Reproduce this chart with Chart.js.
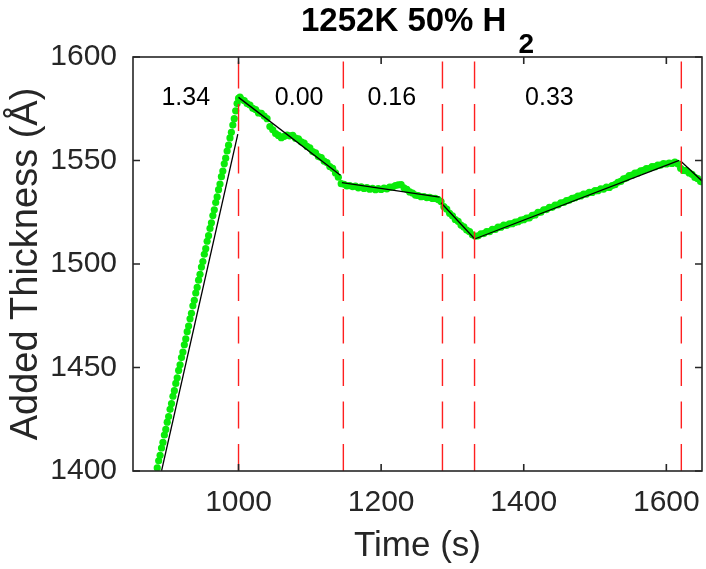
<!DOCTYPE html>
<html>
<head>
<meta charset="utf-8">
<script src="https://cdn.jsdelivr.net/npm/chart.js@4.4.1/dist/chart.umd.min.js"></script>
<style>
  html, body { margin: 0; padding: 0; background: #fff; }
  canvas { display: block; }
</style>
</head>
<body>
<canvas id="chart" width="706" height="569"></canvas>
<script>
// measured film thickness (green dots)
const measTime = [
  884, 886, 888, 890, 892, 894, 896, 898, 900, 902, 904, 906, 908, 910, 912, 914, 916, 918, 920, 922,
  924, 926, 928, 930, 932, 934, 936, 938, 940, 942, 944, 946, 948, 950, 952, 954, 956, 958, 960, 962,
  964, 966, 968, 970, 972, 974, 976, 978, 980, 982, 984, 986, 988, 990, 992, 994, 996, 998, 1000, 1002,
  1004, 1008, 1012, 1016, 1020, 1024, 1028, 1032, 1036, 1040, 1044, 1048, 1052, 1056, 1060, 1064, 1068, 1072, 1076, 1080,
  1084, 1088, 1092, 1096, 1100, 1104, 1108, 1112, 1116, 1120, 1124, 1128, 1132, 1136, 1140, 1144, 1148, 1152, 1156, 1160,
  1164, 1168, 1172, 1176, 1180, 1184, 1188, 1192, 1196, 1200, 1204, 1208, 1212, 1216, 1220, 1224, 1228, 1232, 1236, 1240,
  1244, 1248, 1252, 1256, 1260, 1264, 1268, 1272, 1276, 1280, 1284, 1288, 1292, 1296, 1300, 1304, 1308, 1312, 1316, 1320,
  1324, 1328, 1332, 1336, 1340, 1344, 1348, 1352, 1356, 1360, 1364, 1368, 1372, 1376, 1380, 1384, 1388, 1392, 1396, 1400,
  1404, 1408, 1412, 1416, 1420, 1424, 1428, 1432, 1436, 1440, 1444, 1448, 1452, 1456, 1460, 1464, 1468, 1472, 1476, 1480,
  1484, 1488, 1492, 1496, 1500, 1504, 1508, 1512, 1516, 1520, 1524, 1528, 1532, 1536, 1540, 1544, 1548, 1552, 1556, 1560,
  1564, 1568, 1572, 1576, 1580, 1584, 1588, 1592, 1596, 1600, 1604, 1608, 1612, 1616, 1620, 1624, 1628, 1632, 1636, 1640,
  1644, 1648
];
const measThickness = [
  1398.4, 1401.5, 1404.9, 1407.6, 1411.1, 1413.8, 1417.4, 1420.1, 1423.6, 1426.3, 1429.8, 1432.6, 1436.1, 1438.8, 1442.3, 1445.0, 1448.6, 1451.3, 1454.8, 1457.5,
  1461.0, 1463.8, 1467.3, 1470.0, 1473.5, 1476.2, 1479.8, 1482.5, 1486.0, 1488.7, 1492.2, 1495.0, 1498.5, 1501.2, 1504.7, 1507.4, 1511.0, 1513.7, 1517.2, 1519.9,
  1523.4, 1526.2, 1529.7, 1532.4, 1535.9, 1538.6, 1542.2, 1544.9, 1548.4, 1551.1, 1554.6, 1557.4, 1560.9, 1563.6, 1567.1, 1570.2, 1574.0, 1577.5, 1580.0, 1580.6,
  1579.6, 1578.9, 1577.5, 1576.8, 1575.2, 1574.6, 1573.0, 1572.8, 1571.5, 1570.2, 1566.4, 1564.8, 1563.0, 1562.1, 1561.0, 1561.7, 1562.3, 1561.9, 1562.1, 1560.8,
  1560.5, 1559.0, 1558.4, 1556.8, 1556.1, 1554.3, 1553.7, 1551.9, 1551.4, 1549.7, 1549.0, 1547.1, 1546.2, 1544.0, 1541.9, 1538.8, 1538.5, 1537.7, 1537.9, 1537.4,
  1537.6, 1536.8, 1537.3, 1536.5, 1536.9, 1536.1, 1536.6, 1535.9, 1536.4, 1536.0, 1536.7, 1536.3, 1537.1, 1537.2, 1537.9, 1538.2, 1538.4, 1536.8, 1536.1, 1534.8,
  1534.3, 1533.3, 1533.1, 1532.5, 1532.6, 1532.1, 1532.2, 1531.7, 1531.7, 1531.1, 1530.2, 1527.7, 1526.5, 1524.5, 1523.3, 1521.5, 1520.6, 1518.8, 1517.9, 1516.4,
  1515.6, 1514.1, 1513.4, 1513.6, 1514.6, 1514.7, 1515.6, 1515.6, 1516.7, 1516.7, 1517.8, 1517.8, 1518.8, 1518.7, 1519.4, 1519.5, 1520.2, 1520.4, 1521.2, 1521.4,
  1522.2, 1522.3, 1523.5, 1523.7, 1524.9, 1525.0, 1526.2, 1526.3, 1527.4, 1527.4, 1528.5, 1528.5, 1529.6, 1529.7, 1530.6, 1530.9, 1531.7, 1532.0, 1532.8, 1532.9,
  1533.8, 1533.8, 1534.6, 1534.6, 1535.4, 1535.4, 1536.3, 1536.2, 1537.1, 1537.0, 1537.9, 1538.3, 1539.5, 1539.9, 1541.1, 1541.5, 1542.7, 1542.9, 1543.9, 1544.0,
  1545.0, 1545.2, 1546.1, 1546.1, 1547.0, 1547.0, 1547.8, 1547.8, 1548.5, 1548.3, 1548.8, 1548.6, 1549.2, 1548.4, 1546.2, 1545.2, 1545.1, 1544.0, 1543.3, 1541.8,
  1541.2, 1539.8
];

// piecewise linear fits (black), start/end of each segment
const fitTime = [[892, 999], [1000, 1143], [1145, 1282], [1284, 1331], [1332, 1618], [1620, 1650]];
const fitThickness = [[1400, 1562.7], [1580.5, 1542.9], [1539.3, 1532.3], [1529.6, 1512.2], [1512.2, 1550.1], [1549.8, 1540.1]];

// red dashed segment boundaries
const boundaryTimes = [1000, 1147, 1286, 1331, 1621];

// rate labels written over each interval
const rateLabels = ["1.34", "0.00", "0.16", "0.33"];
const rateLabelTimes = [926, 1085, 1215, 1436];
const rateLabelLevel = 1580;

const xLimits = [852, 1650];
const yLimits = [1400, 1600];
const xTickValues = [1000, 1200, 1400, 1600];
const yTickValues = [1400, 1450, 1500, 1550, 1600];

const fontFamily = "'Liberation Sans', Arial, Helvetica, sans-serif";
const axisColor = "#262626";

const datasets = [];

boundaryTimes.forEach((t) => {
  datasets.push({
    data: [{ x: t, y: yLimits[0] }, { x: t, y: yLimits[1] }],
    showLine: true,
    borderColor: "#ff1f1f",
    borderWidth: 1.4,
    borderDash: [27, 15.5],
    pointRadius: 0,
    order: 0,
  });
});

fitTime.forEach((seg, i) => {
  datasets.push({
    data: seg.map((t, j) => ({ x: t, y: fitThickness[i][j] })),
    showLine: true,
    borderColor: "#000000",
    borderWidth: 1.3,
    pointRadius: 0,
    order: 1,
  });
});

datasets.push({
  data: measTime.map((t, i) => ({ x: t, y: measThickness[i] })),
  showLine: false,
  pointRadius: 3.6,
  pointBorderWidth: 0,
  pointBackgroundColor: "rgb(10, 235, 10)",
  order: 2,
});

// frame, inward ticks, rate labels and the title with its subscript
const decorations = {
  id: "decorations",
  afterDatasetsDraw(chart) {
    const { ctx, scales: { x, y } } = chart;
    ctx.save();
    ctx.font = `25px ${fontFamily}`;
    ctx.fillStyle = "#000";
    ctx.textAlign = "center";
    ctx.textBaseline = "middle";
    rateLabels.forEach((txt, i) => {
      ctx.fillText(txt, x.getPixelForValue(rateLabelTimes[i]), y.getPixelForValue(rateLabelLevel));
    });
    ctx.restore();
  },
  afterDraw(chart) {
    const { ctx, chartArea: a, scales: { x, y } } = chart;
    ctx.save();
    ctx.strokeStyle = axisColor;
    ctx.lineWidth = 1.6;
    ctx.strokeRect(a.left, a.top, a.right - a.left, a.bottom - a.top);
    ctx.beginPath();
    xTickValues.forEach((v) => {
      const px = x.getPixelForValue(v);
      ctx.moveTo(px, a.bottom);
      ctx.lineTo(px, a.bottom - 7);
      ctx.moveTo(px, a.top);
      ctx.lineTo(px, a.top + 7);
    });
    yTickValues.forEach((v) => {
      const py = y.getPixelForValue(v);
      ctx.moveTo(a.left, py);
      ctx.lineTo(a.left + 7, py);
      ctx.moveTo(a.right, py);
      ctx.lineTo(a.right - 7, py);
    });
    ctx.stroke();

    const mainText = "1252K 50% H";
    const subText = "2";
    ctx.fillStyle = "#000";
    ctx.textAlign = "left";
    ctx.textBaseline = "alphabetic";
    ctx.font = `bold 33px ${fontFamily}`;
    const mainW = ctx.measureText(mainText).width;
    ctx.font = `bold 28px ${fontFamily}`;
    const subW = ctx.measureText(subText).width;
    const gap = 12;
    const start = (a.left + a.right) / 2 - (mainW + gap + subW) / 2;
    ctx.font = `bold 33px ${fontFamily}`;
    ctx.fillText(mainText, start, 31);
    ctx.font = `bold 28px ${fontFamily}`;
    ctx.fillText(subText, start + mainW + gap, 53);
    ctx.restore();
  },
};

new Chart(document.getElementById("chart"), {
  type: "scatter",
  data: { datasets },
  options: {
    responsive: false,
    animation: false,
    devicePixelRatio: 1,
    events: [],
    layout: { padding: { top: 57, right: 3, left: 0, bottom: 0 } },
    plugins: { legend: { display: false }, tooltip: { enabled: false }, title: { display: false } },
    scales: {
      x: {
        type: "linear",
        min: xLimits[0],
        max: xLimits[1],
        afterBuildTicks: (s) => { s.ticks = xTickValues.map((v) => ({ value: v })); },
        afterFit: (s) => { s.height = 98; s.paddingLeft = 0; s.paddingRight = 0; },
        grid: { display: false, drawTicks: false, tickLength: 0 },
        border: { display: false },
        ticks: {
          autoSkip: false,
          maxRotation: 0,
          padding: 14,
          color: axisColor,
          font: { family: fontFamily, size: 30 },
          callback: (v) => String(v),
        },
        title: {
          display: true,
          text: "Time (s)",
          color: axisColor,
          font: { family: fontFamily, size: 35, lineHeight: 1 },
          padding: { top: 0, bottom: 5 },
        },
      },
      y: {
        type: "linear",
        min: yLimits[0],
        max: yLimits[1],
        afterBuildTicks: (s) => { s.ticks = yTickValues.map((v) => ({ value: v })); },
        afterFit: (s) => { s.width = 133; s.paddingTop = 0; s.paddingBottom = 0; },
        grid: { display: false, drawTicks: false, tickLength: 0 },
        border: { display: false },
        ticks: {
          autoSkip: false,
          padding: 16,
          color: axisColor,
          font: { family: fontFamily, size: 30 },
          callback: (v) => String(v),
        },
        title: {
          display: true,
          text: "Added Thickness (Å)",
          color: axisColor,
          font: { family: fontFamily, size: 38, lineHeight: 1 },
          padding: { top: 8, bottom: 0 },
        },
      },
    },
  },
  plugins: [decorations],
});
</script>
</body>
</html>
